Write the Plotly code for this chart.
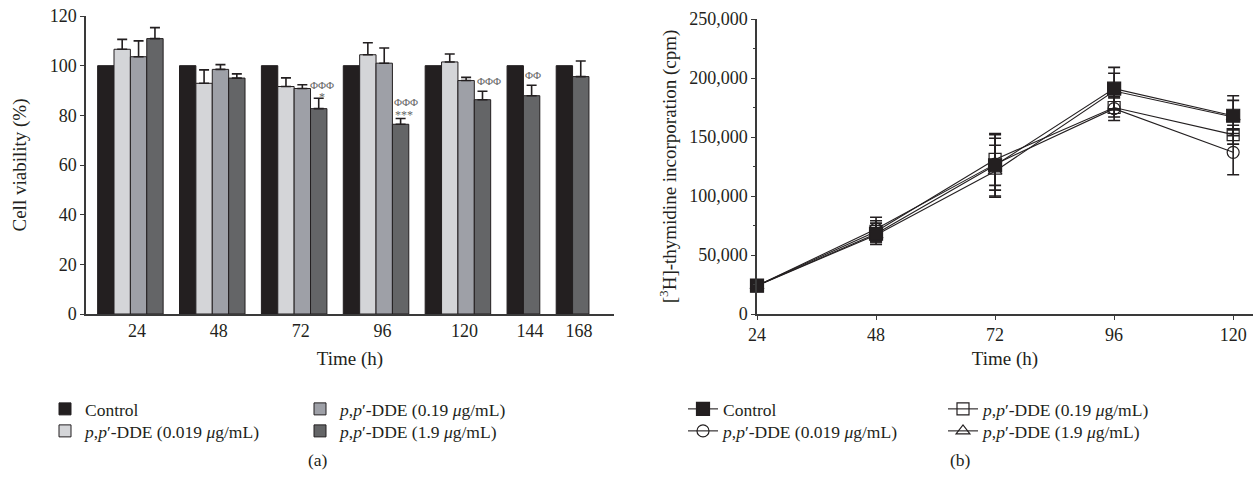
import plotly.graph_objects as go

# ---------------- Panel (a): cell viability ----------------
times_a = ["24", "48", "72", "96", "120", "144", "168"]
series_a_names = ["Control",
                  "<i>p</i>,<i>p</i>\u2032-DDE (0.019 <i>\u03bc</i>g/mL)",
                  "<i>p</i>,<i>p</i>\u2032-DDE (0.19 <i>\u03bc</i>g/mL)",
                  "<i>p</i>,<i>p</i>\u2032-DDE (1.9 <i>\u03bc</i>g/mL)"]
control_a = [100, 100, 100, 100, 100, 100, 100]
dde_0019_a = [106.6, 92.9, 91.6, 104.4, 101.5, None, None]
dde_019_a = [103.6, 98.5, 90.8, 101.0, 94.0, None, None]
dde_19_a = [110.9, 95.0, 82.7, 76.4, 86.3, 87.9, 95.6]
err_control_a = [0, 0, 0, 0, 0, 0, 0]
err_0019_a = [4.0, 5.4, 3.5, 4.8, 3.2, None, None]
err_019_a = [6.4, 1.9, 1.5, 6.1, 1.3, None, None]
err_19_a = [4.4, 1.7, 4.2, 2.3, 3.4, 4.2, 6.3]
# significance marks above the 1.9 ug/mL bars: (time, text)
sig_phi = [("72", "\u03a6\u03a6\u03a6"), ("96", "\u03a6\u03a6\u03a6"), ("120", "\u03a6\u03a6\u03a6"), ("144", "\u03a6\u03a6")]
sig_star = [("72", "*"), ("96", "***")]

# ---------------- Panel (b): thymidine incorporation ----------------
times_b = [24, 48, 72, 96, 120]
control_b = [24000, 68000, 126000, 191000, 168000]
dde_0019_b = [24000, 72000, 127000, 174000, 137000]
dde_019_b = [24000, 70000, 131000, 175000, 152000]
dde_19_b = [24000, 67000, 121000, 189000, 167000]
err_control_b = [2000, 9000, 26000, 18000, 17000]
err_0019_b = [2000, 10000, 22000, 10000, 19000]
err_019_b = [2000, 9000, 22000, 8000, 8000]
err_19_b = [2000, 6000, 22000, 15000, 14000]

FONT = "Liberation Serif"
INK = "#231f20"
bar_colors = [INK, "#d4d5d8", "#9ea0a7", "#646567"]

W, H = 1256, 489
def px_x(p):
    return p / W
def px_y(p):
    return 1 - p / H

fig = go.Figure()

# legend slot (column x, row y) in pixels for each series of each panel
leg_a_pos = [(45, 409), (45, 431), (300, 409), (300, 431)]
leg_b_pos = [(683, 409), (683, 431), (943, 409), (943, 431)]

# --- slot layout for bars: each present bar occupies one slot, one empty slot between groups
vals_a = [control_a, dde_0019_a, dde_019_a, dde_19_a]
errs_a = [err_control_a, err_0019_a, err_019_a, err_19_a]
pos = {s: [None] * len(times_a) for s in range(4)}
group_centers = []
slot = 0
for gi in range(len(times_a)):
    start = slot
    for s in range(4):
        if vals_a[s][gi] is not None:
            pos[s][gi] = slot + 0.5
            slot += 1
    group_centers.append((start + slot) / 2)
    slot += 1
last_slot = slot - 1

for s in range(4):
    xs = [pos[s][i] for i in range(len(times_a)) if vals_a[s][i] is not None]
    ys = [vals_a[s][i] for i in range(len(times_a)) if vals_a[s][i] is not None]
    es = [errs_a[s][i] for i in range(len(times_a)) if vals_a[s][i] is not None]
    fig.add_trace(go.Bar(
        x=xs, y=ys, width=1.0, name=series_a_names[s], showlegend=True,
        marker=dict(color=bar_colors[s], line=dict(color=INK, width=1)),
        error_y=dict(type="data", symmetric=False, array=es, arrayminus=[0] * len(es),
                     color=INK, thickness=1.6, width=5, visible=s > 0),
        xaxis="x", yaxis="y",
        legend="legend" if s == 0 else "legend%d" % (s + 1),
    ))

# significance annotations anchored to the 1.9 ug/mL bars
phi_shift = {"72": (3, 13), "96": (5, 17), "120": (7, 10), "144": (1, 10)}
star_shift = {"72": (3, 1), "96": (3, 4)}
annotations = []
for t, txt in sig_phi:
    i = times_a.index(t)
    dx, dy = phi_shift[t]
    annotations.append(dict(x=pos[3][i], y=dde_19_a[i] + err_19_a[i], xref="x", yref="y",
                            text=txt, showarrow=False, xshift=dx, yshift=dy, yanchor="middle",
                            font=dict(family=FONT, size=11, color="#666666")))
for t, txt in sig_star:
    i = times_a.index(t)
    dx, dy = star_shift[t]
    annotations.append(dict(x=pos[3][i], y=dde_19_a[i] + err_19_a[i], xref="x", yref="y",
                            text=txt, showarrow=False, xshift=dx, yshift=dy, yanchor="middle",
                            font=dict(family=FONT, size=12, color="#666666")))

# --- panel (b) lines; control drawn last so it lies on top
series_b = [
    (dde_19_b, err_19_b, series_a_names[3], "triangle-up-open", 12, 3),
    (dde_019_b, err_019_b, series_a_names[2], "square-open", 12, 2),
    (dde_0019_b, err_0019_b, series_a_names[1], "circle-open", 12, 1),
    (control_b, err_control_b, series_a_names[0], "square", 13, 0),
]
for vals, errs, name, sym, size, rank in series_b:
    fig.add_trace(go.Scatter(
        x=times_b, y=vals, name=name, mode="lines+markers", showlegend=True,
        line=dict(color=INK, width=1.1),
        marker=dict(symbol=sym, size=size, color=INK, line=dict(color=INK, width=1.2)),
        error_y=dict(type="data", array=errs, color=INK, thickness=1.6, width=6),
        xaxis="x2", yaxis="y2", cliponaxis=False,
        legend="legend%d" % (rank + 5),
    ))

axis_common = dict(showline=True, linecolor="#3a3a3a", linewidth=1.5, showgrid=False, zeroline=False,
                   tickfont=dict(family=FONT, size=18, color=INK), ticks="outside", tickcolor="#3a3a3a",
                   ticklen=4, tickwidth=1.2, automargin=False)

y_dom = [px_y(314), px_y(16)]
fig.update_layout(
    width=W, height=H, margin=dict(l=0, r=0, t=0, b=0, autoexpand=False),
    paper_bgcolor="white", plot_bgcolor="white",
    font=dict(family=FONT, color=INK),
    barmode="overlay", showlegend=True,
    xaxis=dict(axis_common, domain=[px_x(86), px_x(614)], range=[-0.71, last_slot + 1.53],
               tickvals=[c + 0.4 for c in group_centers], ticktext=times_a, ticks="",
               title=dict(text="Time (h)", font=dict(family=FONT, size=19, color=INK), standoff=11)),
    yaxis=dict(axis_common, domain=y_dom, range=[0, 120], tickvals=[0, 20, 40, 60, 80, 100, 120],
               title=dict(text="Cell viability (%)", font=dict(family=FONT, size=19, color=INK), standoff=18)),
    xaxis2=dict(axis_common, domain=[px_x(757), px_x(1253)], range=[24, 124],
                tickvals=times_b, anchor="y2",
                title=dict(text="Time (h)", font=dict(family=FONT, size=19, color=INK), standoff=7)),
    yaxis2=dict(axis_common, domain=[px_y(314), px_y(19)], range=[0, 250000], anchor="x2",
                tickvals=[0, 50000, 100000, 150000, 200000, 250000], tickformat=",d",
                minor=dict(ticks="outside", ticklen=2, dtick=25000, tickcolor="#3a3a3a"),
                title=dict(text="[<sup>3</sup>H]-thymidine incorporation (cpm)",
                           font=dict(family=FONT, size=19, color=INK), standoff=8)),
    annotations=annotations + [
        dict(x=px_x(318), y=px_y(460), xref="paper", yref="paper", text="(a)", showarrow=False,
             xanchor="center", yanchor="middle", font=dict(family=FONT, size=17.5, color=INK)),
        dict(x=px_x(960), y=px_y(460), xref="paper", yref="paper", text="(b)", showarrow=False,
             xanchor="center", yanchor="middle", font=dict(family=FONT, size=17.5, color=INK)),
    ],
)

leg_common = dict(orientation="v", xanchor="left", yanchor="middle", bgcolor="rgba(0,0,0,0)",
                  font=dict(family=FONT, size=17.5, color=INK), itemwidth=30, tracegroupgap=0)
legend_layout = {}
for k, (lx, ly) in enumerate(leg_a_pos + leg_b_pos):
    key = "legend" if k == 0 else "legend%d" % (k + 1)
    legend_layout[key] = dict(leg_common, x=px_x(lx), y=px_y(ly), visible=True)
fig.update_layout(**legend_layout)

fig.write_html("out.html", config={"displayModeBar": False},
               post_script="document.body.style.margin='0px';")
